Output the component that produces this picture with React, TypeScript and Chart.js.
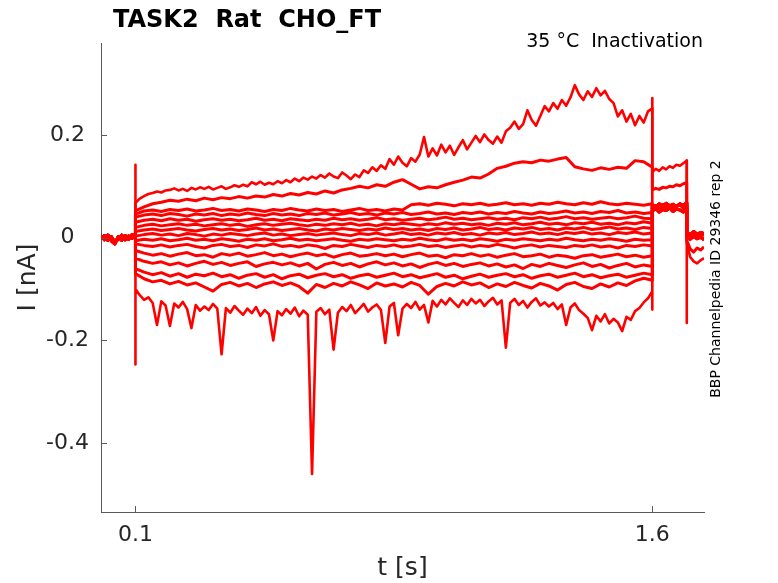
import { useEffect, useRef } from "react"
import { Chart, registerables } from "chart.js"

Chart.register(...registerables)

// time grids [s]
const preTimes = [0, 0.01, 0.02, 0.03, 0.04, 0.05, 0.06, 0.07, 0.08, 0.09, 0.1]
const mainTimes = [
  0.1, 0.125, 0.15, 0.175, 0.2, 0.225, 0.25, 0.275, 0.3, 0.325,
  0.35, 0.375, 0.4, 0.425, 0.45, 0.475, 0.5, 0.525, 0.55, 0.575,
  0.6, 0.625, 0.65, 0.675, 0.7, 0.725, 0.75, 0.775, 0.8, 0.825,
  0.85, 0.875, 0.9, 0.925, 0.95, 0.975, 1.0, 1.025, 1.05, 1.075,
  1.1, 1.125, 1.15, 1.175, 1.2, 1.225, 1.25, 1.275, 1.3, 1.325,
  1.35, 1.375, 1.4, 1.425, 1.45, 1.475, 1.5, 1.525, 1.55, 1.575,
  1.6,
]
// finer grid for the two noisiest traces
const fineTimes = [
  0.1, 0.1125, 0.125, 0.1375, 0.15, 0.1625, 0.175, 0.1875,
  0.2, 0.2125, 0.225, 0.2375, 0.25, 0.2625, 0.275, 0.2875,
  0.3, 0.3125, 0.325, 0.3375, 0.35, 0.3625, 0.375, 0.3875,
  0.4, 0.4125, 0.425, 0.4375, 0.45, 0.4625, 0.475, 0.4875,
  0.5, 0.5125, 0.525, 0.5375, 0.55, 0.5625, 0.575, 0.5875,
  0.6, 0.6125, 0.625, 0.6375, 0.65, 0.6625, 0.675, 0.6875,
  0.7, 0.7125, 0.725, 0.7375, 0.75, 0.7625, 0.775, 0.7875,
  0.8, 0.8125, 0.825, 0.8375, 0.85, 0.8625, 0.875, 0.8875,
  0.9, 0.9125, 0.925, 0.9375, 0.95, 0.9625, 0.975, 0.9875,
  1.0, 1.0125, 1.025, 1.0375, 1.05, 1.0625, 1.075, 1.0875,
  1.1, 1.1125, 1.125, 1.1375, 1.15, 1.1625, 1.175, 1.1875,
  1.2, 1.2125, 1.225, 1.2375, 1.25, 1.2625, 1.275, 1.2875,
  1.3, 1.3125, 1.325, 1.3375, 1.35, 1.3625, 1.375, 1.3875,
  1.4, 1.4125, 1.425, 1.4375, 1.45, 1.4625, 1.475, 1.4875,
  1.5, 1.5125, 1.525, 1.5375, 1.55, 1.5625, 1.575, 1.5875,
  1.6,
]
const testTimes = [1.6, 1.61, 1.62, 1.63, 1.64, 1.65, 1.66, 1.67, 1.68, 1.69, 1.7]
const postTimes = [1.7, 1.71, 1.72, 1.73, 1.74, 1.75]

// capacitive transients [nA]
const onsetSpike = [0.142, -0.247]
const stepSpike = [0.272, -0.14]
const offsetSpike = [0.15, -0.166]

// holding segment before the prepulse
const preA = [0.003, -0.004, 0.005, -0.006, -0.012, 0.002, -0.005, 0.004, -0.003, 0.006, 0.002]
const preB = [-0.002, 0.004, -0.005, 0.002, -0.009, -0.003, 0.005, -0.004, 0.003, -0.001, 0.004]

// prepulse currents [nA]
const top1 = [
  0.068, 0.076, 0.081, 0.085, 0.087, 0.090, 0.088, 0.092,
  0.093, 0.096, 0.092, 0.095, 0.091, 0.097, 0.094, 0.098,
  0.095, 0.099, 0.094, 0.097, 0.100, 0.095, 0.098, 0.102,
  0.099, 0.103, 0.100, 0.108, 0.104, 0.109, 0.103, 0.107,
  0.104, 0.110, 0.106, 0.112, 0.108, 0.115, 0.110, 0.117,
  0.113, 0.119, 0.115, 0.122, 0.117, 0.125, 0.119, 0.116,
  0.127, 0.121, 0.114, 0.123, 0.118, 0.131, 0.126, 0.137,
  0.130, 0.141, 0.134, 0.153, 0.142, 0.158, 0.146, 0.139,
  0.155, 0.148, 0.162, 0.196, 0.158, 0.174, 0.160, 0.181,
  0.166, 0.179, 0.161, 0.176, 0.190, 0.172, 0.185, 0.198,
  0.186, 0.201, 0.190, 0.183, 0.197, 0.185, 0.207, 0.214,
  0.226, 0.212, 0.221, 0.248, 0.229, 0.218, 0.237, 0.256,
  0.246, 0.262, 0.251, 0.268, 0.257, 0.273, 0.297, 0.279,
  0.268, 0.285, 0.274, 0.291, 0.277, 0.286, 0.270, 0.262,
  0.236, 0.248, 0.226, 0.241, 0.219, 0.237, 0.224, 0.246,
  0.252,
]
const top2 = [
  0.052, 0.060, 0.066, 0.069, 0.073, 0.071, 0.075, 0.072, 0.077, 0.074,
  0.078, 0.076, 0.080, 0.077, 0.081, 0.079, 0.084, 0.081, 0.086, 0.083,
  0.088, 0.085, 0.091, 0.087, 0.093, 0.096, 0.100, 0.097, 0.103, 0.100,
  0.108, 0.113, 0.104, 0.095, 0.099, 0.097, 0.103, 0.108, 0.112, 0.118,
  0.116, 0.124, 0.135, 0.139, 0.145, 0.148, 0.146, 0.151, 0.149, 0.153,
  0.156, 0.138, 0.134, 0.131, 0.136, 0.133, 0.137, 0.135, 0.150, 0.148,
  0.137,
]
const band1 = [
  0.046, 0.052, 0.054, 0.051, 0.055, 0.053, 0.056, 0.052, 0.054, 0.057,
  0.053, 0.055, 0.052, 0.056, 0.054, 0.051, 0.055, 0.053, 0.057, 0.054,
  0.052, 0.056, 0.053, 0.055, 0.051, 0.054, 0.057, 0.053, 0.055, 0.052,
  0.056, 0.054, 0.064, 0.066, 0.063, 0.067, 0.065, 0.062, 0.066, 0.064,
  0.067, 0.063, 0.065, 0.068, 0.064, 0.066, 0.063, 0.067, 0.065, 0.069,
  0.066, 0.064, 0.068, 0.065, 0.070, 0.066, 0.064, 0.067, 0.065, 0.063,
  0.066,
]
const band2 = [
  0.040, 0.044, 0.046, 0.043, 0.047, 0.045, 0.042, 0.046, 0.044, 0.047,
  0.043, 0.046, 0.044, 0.048, 0.045, 0.043, 0.047, 0.044, 0.046, 0.043,
  0.047, 0.045, 0.048, 0.044, 0.046, 0.049, 0.045, 0.047, 0.044, 0.048,
  0.046, 0.049, 0.045, 0.047, 0.050, 0.046, 0.048, 0.045, 0.049, 0.047,
  0.050, 0.046, 0.049, 0.047, 0.051, 0.048, 0.046, 0.050, 0.047, 0.049,
  0.052, 0.048, 0.050, 0.047, 0.051, 0.049, 0.053, 0.048, 0.050, 0.047,
  0.049,
]
const band3 = [
  0.030, 0.034, 0.036, 0.033, 0.037, 0.034, 0.036, 0.032, 0.035, 0.037,
  0.034, 0.036, 0.033, 0.035, 0.038, 0.034, 0.036, 0.033, 0.037, 0.035,
  0.033, 0.036, 0.034, 0.038, 0.035, 0.037, 0.034, 0.036, 0.039, 0.035,
  0.037, 0.034, 0.036, 0.038, 0.035, 0.037, 0.040, 0.036, 0.038, 0.035,
  0.037, 0.039, 0.036, 0.038, 0.035, 0.039, 0.037, 0.040, 0.036, 0.038,
  0.041, 0.037, 0.039, 0.036, 0.038, 0.040, 0.037, 0.039, 0.042, 0.038,
  0.037,
]
const band4 = [
  0.020, 0.024, 0.026, 0.023, 0.025, 0.027, 0.024, 0.026, 0.023, 0.025,
  0.027, 0.024, 0.026, 0.022, 0.025, 0.027, 0.024, 0.026, 0.028, 0.025,
  0.023, 0.026, 0.024, 0.027, 0.025, 0.028, 0.024, 0.026, 0.023, 0.027,
  0.025, 0.028, 0.026, 0.024, 0.027, 0.025, 0.029, 0.026, 0.028, 0.025,
  0.027, 0.024, 0.028, 0.026, 0.029, 0.025, 0.027, 0.030, 0.026, 0.028,
  0.025, 0.029, 0.027, 0.030, 0.026, 0.028, 0.025, 0.029, 0.027, 0.031,
  0.028,
]
const band5 = [
  0.012, 0.015, 0.017, 0.014, 0.016, 0.018, 0.015, 0.013, 0.016, 0.018,
  0.015, 0.017, 0.014, 0.016, 0.019, 0.015, 0.017, 0.014, 0.016, 0.018,
  0.015, 0.013, 0.017, 0.015, 0.018, 0.016, 0.014, 0.017, 0.015, 0.019,
  0.016, 0.018, 0.015, 0.017, 0.014, 0.018, 0.016, 0.019, 0.015, 0.017,
  0.020, 0.016, 0.018, 0.015, 0.019, 0.017, 0.020, 0.016, 0.018, 0.015,
  0.019, 0.017, 0.020, 0.016, 0.018, 0.021, 0.017, 0.019, 0.016, 0.020,
  0.018,
]
const band6 = [
  0.003, 0.006, 0.008, 0.005, 0.007, 0.004, 0.008, 0.006, 0.003, 0.007,
  0.005, 0.008, 0.006, 0.004, 0.007, 0.009, 0.005, 0.007, 0.004, 0.006,
  0.008, 0.005, 0.007, 0.009, 0.006, 0.004, 0.008, 0.006, 0.009, 0.005,
  0.007, 0.010, 0.006, 0.008, 0.005, 0.009, 0.007, 0.010, 0.006, 0.008,
  0.005, 0.009, 0.007, 0.010, 0.006, 0.008, 0.011, 0.007, 0.009, 0.006,
  0.010, 0.008, 0.011, 0.007, 0.009, 0.006, 0.010, 0.008, 0.011, 0.007,
  0.009,
]
const band7 = [
  -0.006, -0.003, -0.005, -0.002, -0.006, -0.004, -0.001, -0.005, -0.003, -0.006,
  -0.002, -0.004, -0.007, -0.003, -0.005, -0.002, -0.006, -0.004, -0.001, -0.005,
  -0.003, -0.006, -0.004, -0.002, -0.005, -0.007, -0.003, -0.005, -0.002, -0.004,
  -0.006, -0.003, -0.005, -0.001, -0.004, -0.006, -0.002, -0.005, -0.003, -0.006,
  -0.002, -0.004, -0.007, -0.003, -0.005, -0.002, -0.004, -0.006, -0.003, -0.005,
  -0.001, -0.004, -0.006, -0.003, -0.005, -0.002, -0.004, -0.007, -0.003, -0.005,
  -0.004,
]
const band8 = [
  -0.012, -0.015, -0.017, -0.014, -0.018, -0.015, -0.013, -0.017, -0.020, -0.015,
  -0.013, -0.017, -0.015, -0.019, -0.014, -0.016, -0.012, -0.017, -0.015, -0.018,
  -0.014, -0.016, -0.021, -0.015, -0.017, -0.013, -0.016, -0.019, -0.015, -0.017,
  -0.014, -0.018, -0.016, -0.013, -0.017, -0.015, -0.019, -0.016, -0.014, -0.018,
  -0.015, -0.017, -0.013, -0.016, -0.020, -0.016, -0.014, -0.018, -0.015, -0.017,
  -0.019, -0.015, -0.017, -0.014, -0.018, -0.016, -0.020, -0.015, -0.017, -0.014,
  -0.016,
]
const band9 = [
  -0.025, -0.030, -0.034, -0.031, -0.036, -0.032, -0.029, -0.035, -0.033, -0.038,
  -0.031, -0.034, -0.030, -0.036, -0.033, -0.029, -0.035, -0.032, -0.037, -0.033,
  -0.030, -0.035, -0.032, -0.038, -0.033, -0.030, -0.036, -0.034, -0.031, -0.035,
  -0.032, -0.037, -0.033, -0.030, -0.036, -0.034, -0.039, -0.033, -0.035, -0.031,
  -0.036, -0.033, -0.038, -0.034, -0.031, -0.037, -0.035, -0.032, -0.038, -0.034,
  -0.036, -0.040, -0.035, -0.033, -0.038, -0.035, -0.032, -0.037, -0.034, -0.038,
  -0.035,
]
const band10 = [
  -0.040, -0.046, -0.050, -0.047, -0.053, -0.049, -0.055, -0.050, -0.046, -0.052,
  -0.048, -0.054, -0.050, -0.047, -0.056, -0.051, -0.048, -0.053, -0.049, -0.055,
  -0.050, -0.061, -0.052, -0.048, -0.054, -0.050, -0.057, -0.051, -0.047, -0.053,
  -0.049, -0.055, -0.051, -0.058, -0.052, -0.048, -0.054, -0.050, -0.056, -0.052,
  -0.049, -0.055, -0.051, -0.057, -0.053, -0.060, -0.052, -0.056, -0.050, -0.054,
  -0.058, -0.053, -0.049, -0.056, -0.052, -0.059, -0.054, -0.050, -0.057, -0.053,
  -0.056,
]
const band11 = [
  -0.060, -0.067, -0.072, -0.068, -0.075, -0.070, -0.077, -0.071, -0.074, -0.069,
  -0.076, -0.072, -0.079, -0.073, -0.070, -0.077, -0.072, -0.080, -0.074, -0.071,
  -0.078, -0.073, -0.070, -0.076, -0.072, -0.079, -0.074, -0.071, -0.077, -0.073,
  -0.069, -0.076, -0.072, -0.078, -0.074, -0.070, -0.077, -0.073, -0.080, -0.075,
  -0.071, -0.077, -0.073, -0.070, -0.076, -0.072, -0.079, -0.074, -0.071, -0.077,
  -0.073, -0.069, -0.076, -0.072, -0.078, -0.074, -0.071, -0.077, -0.073, -0.069,
  -0.072,
]
const band12 = [
  -0.070, -0.080, -0.086, -0.083, -0.090, -0.085, -0.092, -0.088, -0.096, -0.104,
  -0.091, -0.087, -0.094, -0.089, -0.097, -0.090, -0.086, -0.093, -0.088, -0.095,
  -0.108, -0.091, -0.097, -0.089, -0.094, -0.086, -0.092, -0.099, -0.088, -0.094,
  -0.090, -0.096, -0.087, -0.093, -0.110, -0.095, -0.089, -0.094, -0.086, -0.092,
  -0.088, -0.097, -0.090, -0.095, -0.087, -0.093, -0.098, -0.089, -0.094, -0.102,
  -0.091, -0.087, -0.095, -0.099, -0.090, -0.096, -0.088, -0.093, -0.084, -0.079,
  -0.083,
]
const bottom = [
  -0.100, -0.112, -0.121, -0.116, -0.127, -0.170, -0.124, -0.132,
  -0.172, -0.128, -0.136, -0.125, -0.139, -0.176, -0.131, -0.142,
  -0.134, -0.141, -0.129, -0.138, -0.227, -0.137, -0.146, -0.133,
  -0.142, -0.150, -0.138, -0.147, -0.135, -0.152, -0.141, -0.149,
  -0.200, -0.143, -0.151, -0.139, -0.148, -0.136, -0.153, -0.142,
  -0.150, -0.460, -0.144, -0.137, -0.149, -0.140, -0.218, -0.146,
  -0.135, -0.143, -0.131, -0.147, -0.138, -0.129, -0.144, -0.136,
  -0.130, -0.141, -0.205, -0.134, -0.127, -0.190, -0.138, -0.129,
  -0.137, -0.125, -0.140, -0.131, -0.165, -0.123, -0.134, -0.121,
  -0.130, -0.118, -0.127, -0.135, -0.122, -0.131, -0.119, -0.128,
  -0.121, -0.133, -0.124, -0.117, -0.130, -0.122, -0.214, -0.127,
  -0.119, -0.131, -0.123, -0.136, -0.125, -0.118, -0.132, -0.126,
  -0.134, -0.127, -0.139, -0.130, -0.170, -0.136, -0.128, -0.141,
  -0.148, -0.156, -0.180, -0.152, -0.163, -0.149, -0.167, -0.158,
  -0.165, -0.182, -0.154, -0.160, -0.143, -0.137, -0.126, -0.118,
  -0.104,
]

// test pulse currents [nA]
const testTop1 = [0.128, 0.134, 0.130, 0.137, 0.133, 0.139, 0.136, 0.142, 0.140, 0.145, 0.150]
const testTop2 = [0.093, 0.096, 0.094, 0.098, 0.097, 0.100, 0.099, 0.103, 0.101, 0.105, 0.107]
const testBandA = [0.058, 0.062, 0.055, 0.064, 0.059, 0.063, 0.056, 0.061, 0.065, 0.058, 0.062]
const testBandB = [0.052, 0.057, 0.050, 0.055, 0.053, 0.058, 0.051, 0.056, 0.054, 0.050, 0.057]
const testBandC = [0.063, 0.060, 0.066, 0.061, 0.067, 0.062, 0.065, 0.060, 0.066, 0.063, 0.068]

// tail after the test pulse [nA]
const postTop1 = [-0.010, -0.038, -0.046, -0.050, -0.044, -0.040]
const postTop2 = [-0.005, -0.022, -0.028, -0.020, -0.024, -0.018]
const postBandA = [0.008, 0.004, 0.009, 0.003, 0.007, 0.005]
const postBandB = [0.002, -0.003, 0.003, -0.002, 0.001, -0.004]
const postBandC = [0.011, 0.006, 0.012, 0.007, 0.010, 0.008]

const xTickValues = [0.1, 1.6]
const xTickLabels = ["0.1", "1.6"]
const yTickValues = [-0.4, -0.2, 0, 0.2]
const yTickLabels = ["-0.4", "-0.2", "0", "0.2"]

const FONT = "'DejaVu Sans', sans-serif"
const AXIS_COLOR = "#5a5a5a"
const TEXT_COLOR = "#262626"

type Trace = {
  pre: number[]
  main: number[]
  times?: number[]
  test: number[]
  post: number[]
  spikes?: boolean
}

const traces: Trace[] = [
  { pre: preA, main: top1, times: fineTimes, test: testTop1, post: postTop1 },
  { pre: preB, main: top2, test: testTop2, post: postTop2 },
  { pre: preA, main: band1, test: testBandA, post: postBandA },
  { pre: preB, main: band2, test: testBandB, post: postBandB },
  { pre: preA, main: band3, test: testBandC, post: postBandC },
  { pre: preB, main: band4, test: testBandA, post: postBandA },
  { pre: preA, main: band5, test: testBandB, post: postBandB },
  { pre: preB, main: band6, test: testBandC, post: postBandC },
  { pre: preA, main: band7, test: testBandA, post: postBandA },
  { pre: preB, main: band8, test: testBandB, post: postBandB },
  { pre: preA, main: band9, test: testBandC, post: postBandC },
  { pre: preB, main: band10, test: testBandA, post: postBandA },
  { pre: preA, main: band11, test: testBandB, post: postBandB },
  { pre: preB, main: band12, test: testBandC, post: postBandC },
  { pre: preA, main: bottom, times: fineTimes, test: testBandB, post: postBandB, spikes: true },
]

function toPoints(tr: Trace) {
  const pts: { x: number; y: number }[] = []
  const add = (times: number[], vals: number[]) => {
    const n = Math.min(times.length, vals.length)
    for (let i = 0; i < n; i++) pts.push({ x: times[i], y: vals[i] })
  }
  const times = tr.times ?? mainTimes
  add(preTimes, tr.pre)
  if (tr.spikes) onsetSpike.forEach((v) => pts.push({ x: times[0], y: v }))
  add(times, tr.main)
  if (tr.spikes) stepSpike.forEach((v) => pts.push({ x: testTimes[0], y: v }))
  add(testTimes, tr.test)
  if (tr.spikes) offsetSpike.forEach((v) => pts.push({ x: postTimes[0], y: v }))
  add(postTimes, tr.post)
  return pts
}

const decorations = {
  id: "decorations",
  afterDraw(chart: Chart) {
    const { ctx, chartArea } = chart
    const xs = chart.scales.x
    const ys = chart.scales.y
    ctx.save()
    // inward tick marks
    ctx.strokeStyle = AXIS_COLOR
    ctx.lineWidth = 1
    ctx.beginPath()
    yTickValues.forEach((v) => {
      const py = Math.round(ys.getPixelForValue(v)) + 0.5
      ctx.moveTo(chartArea.left, py)
      ctx.lineTo(chartArea.left + 6, py)
    })
    xTickValues.forEach((v) => {
      const px = Math.round(xs.getPixelForValue(v)) + 0.5
      ctx.moveTo(px, chartArea.bottom)
      ctx.lineTo(px, chartArea.bottom - 6)
    })
    ctx.stroke()

    // title and annotations
    ctx.fillStyle = "#000"
    ctx.font = `bold 24px ${FONT}`
    ctx.textAlign = "left"
    ctx.textBaseline = "alphabetic"
    ctx.fillText("TASK2  Rat  CHO_FT", 113, 27)

    ctx.font = `19px ${FONT}`
    ctx.textAlign = "right"
    ctx.fillText("35 °C  Inactivation", 703, 47)

    ctx.font = `14px ${FONT}`
    ctx.textAlign = "center"
    ctx.textBaseline = "middle"
    ctx.translate(716, 279)
    ctx.rotate(-Math.PI / 2)
    ctx.fillText("BBP Channelpedia ID 29346 rep 2", 0, 0)
    ctx.restore()
  },
}

export default function App() {
  const canvasRef = useRef<HTMLCanvasElement>(null)

  useEffect(() => {
    if (!canvasRef.current) return

    const chart = new Chart(canvasRef.current, {
      type: "line",
      data: {
        datasets: traces.map((tr, i) => ({
          label: `trace ${i + 1}`,
          data: toPoints(tr),
          borderColor: "#ff0000",
          borderWidth: tr.times ? 2.6 : 3,
          borderJoinStyle: "round" as const,
          pointRadius: 0,
          tension: 0,
          fill: false,
        })),
      },
      options: {
        animation: false,
        responsive: false,
        devicePixelRatio: 1,
        events: [],
        layout: { padding: { left: 0, right: 74, top: 43, bottom: 0 } },
        plugins: {
          legend: { display: false },
          tooltip: { enabled: false },
        },
        scales: {
          x: {
            type: "linear",
            min: 0,
            max: 1.75,
            afterBuildTicks: (scale) => {
              scale.ticks = xTickValues.map((v) => ({ value: v }))
            },
            afterFit: (scale) => {
              scale.height = 71
            },
            grid: { display: false, drawTicks: false },
            border: { display: true, color: AXIS_COLOR, width: 1 },
            ticks: {
              autoSkip: false,
              maxRotation: 0,
              padding: 10,
              color: TEXT_COLOR,
              font: { family: FONT, size: 22 },
              callback: (v) => xTickLabels[xTickValues.indexOf(Number(v))] ?? "",
            },
            title: {
              display: true,
              text: "t [s]",
              color: TEXT_COLOR,
              font: { family: FONT, size: 25 },
              padding: { top: 0, bottom: 0 },
            },
          },
          y: {
            type: "linear",
            min: -0.534,
            max: 0.379,
            afterBuildTicks: (scale) => {
              scale.ticks = yTickValues.map((v) => ({ value: v }))
            },
            afterFit: (scale) => {
              scale.width = 101
            },
            grid: { display: false, drawTicks: false },
            border: { display: true, color: AXIS_COLOR, width: 1 },
            ticks: {
              padding: 12,
              crossAlign: "center",
              color: TEXT_COLOR,
              font: { family: FONT, size: 22 },
              callback: (v) => yTickLabels[yTickValues.indexOf(Number(v))] ?? "",
            },
            title: {
              display: true,
              text: "I [nA]",
              color: TEXT_COLOR,
              font: { family: FONT, size: 25 },
              padding: { top: 13, bottom: 0 },
            },
          },
        },
      },
      plugins: [decorations],
    })

    return () => {
      chart.destroy()
    }
  }, [])

  return (
    <div style={{ position: "absolute", left: 0, top: 0, width: 778, height: 583, background: "#fff" }}>
      <canvas ref={canvasRef} width={778} height={583} />
    </div>
  )
}
